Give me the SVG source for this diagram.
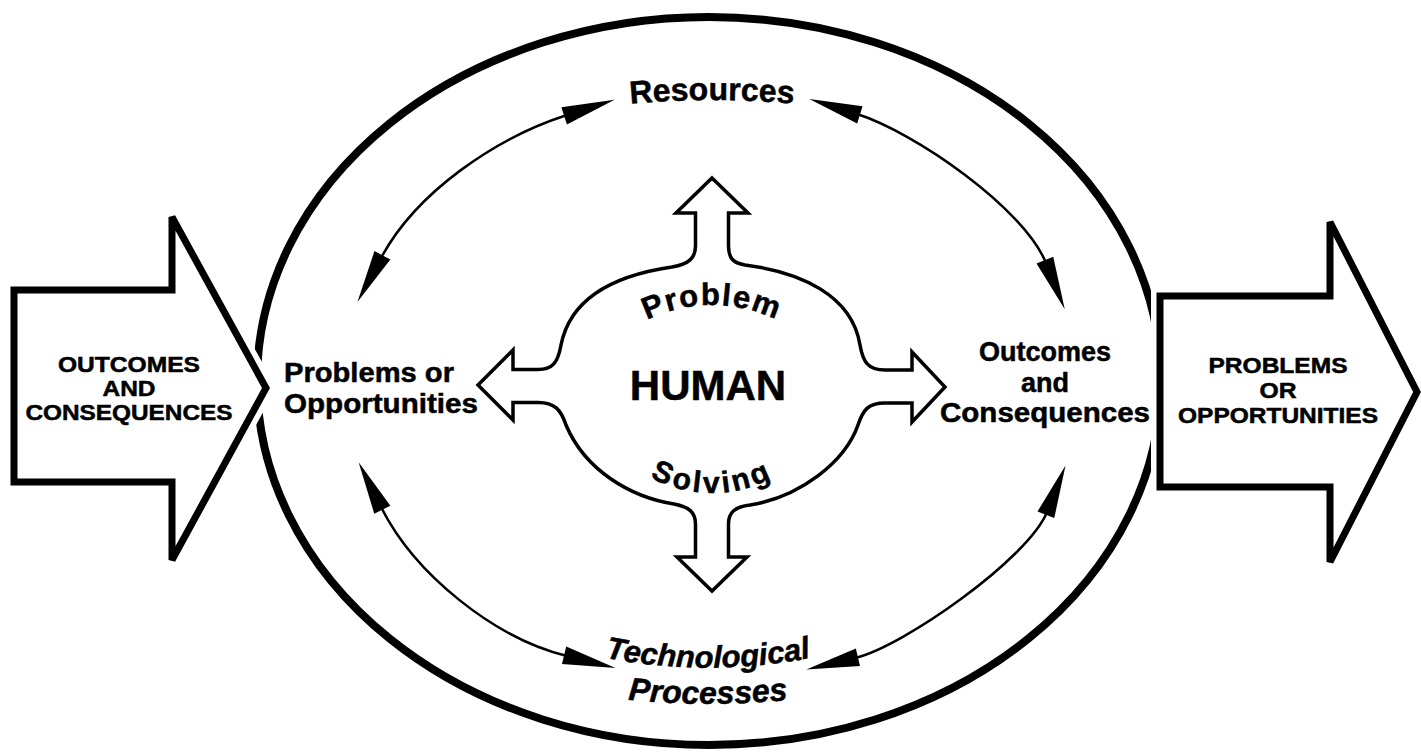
<svg xmlns="http://www.w3.org/2000/svg" xmlns:xlink="http://www.w3.org/1999/xlink" width="1421" height="753" viewBox="0 0 1421 753">
<style>
  .t { font-family: "Liberation Sans", Arial, Helvetica, sans-serif; font-weight: bold; fill: #000; stroke: #000; stroke-width: 0.5; }
  .ti { font-family: "Liberation Sans", Arial, Helvetica, sans-serif; font-weight: bold; font-style: italic; fill: #000; stroke: #000; stroke-width: 0.5; }
  .big { fill: #fff; stroke: #000; stroke-width: 7; stroke-linejoin: miter; }
  .halo { fill: #fff; stroke: #fff; stroke-width: 18; stroke-linejoin: miter; }
  .conn { fill: none; stroke: #000; stroke-width: 2.5; marker-start: url(#ah); marker-end: url(#ah); }
</style>
<defs>
  <marker id="ah" viewBox="-4 -10 56 20" markerWidth="56" markerHeight="20" refX="0" refY="0" orient="auto-start-reverse" markerUnits="userSpaceOnUse">
    <path d="M-3,-9 L50,0 L-3,9 Z" fill="#000"/>
  </marker>
  <path id="arcProblem" d="M598.6,357.9 A148,148 0 0 1 825.4,357.9"/>
  <path id="arcSolving" d="M599.4,428 A130,130 0 0 0 824.6,428"/>
  <path id="arcTech" d="M592,655 A535,535 0 0 0 824,655"/>
  <path id="arcProc" d="M560,690 A800,800 0 0 0 856,690"/>
  <path id="arcRes" d="M560,113 A900,900 0 0 1 864,113"/>
</defs>
<rect x="0" y="0" width="1421" height="753" fill="#fff"/>

<g id="outer-ellipse">
  <ellipse cx="709" cy="381" rx="452" ry="364" fill="none" stroke="#000" stroke-width="8"/>
</g>

<g id="input-arrow">
  <path class="halo" d="M14,290 L172,290 L172,217 L266,388 L172,560 L172,482 L14,482 Z"/>
  <path class="big" d="M14,290 L172,290 L172,217 L266,388 L172,560 L172,482 L14,482 Z"/>
  <text class="t" font-size="21.5" text-anchor="middle"><tspan x="129" y="372" textLength="142" lengthAdjust="spacingAndGlyphs">OUTCOMES</tspan><tspan x="129" y="396" textLength="53" lengthAdjust="spacingAndGlyphs">AND</tspan><tspan x="129" y="420" textLength="207" lengthAdjust="spacingAndGlyphs">CONSEQUENCES</tspan></text>
</g>

<g id="output-arrow">
  <path class="halo" d="M1160,296 L1330,296 L1330,222 L1417,392 L1330,562 L1330,487 L1160,487 Z"/>
  <path class="big" d="M1160,296 L1330,296 L1330,222 L1417,392 L1330,562 L1330,487 L1160,487 Z"/>
  <text class="t" font-size="21.5" text-anchor="middle"><tspan x="1278" y="373" textLength="139" lengthAdjust="spacingAndGlyphs">PROBLEMS</tspan><tspan x="1278" y="398" textLength="37" lengthAdjust="spacingAndGlyphs">OR</tspan><tspan x="1278" y="423" textLength="200" lengthAdjust="spacingAndGlyphs">OPPORTUNITIES</tspan></text>
</g>

<g id="human-problem-solving">
  <path fill="#fff" stroke="#000" stroke-width="3.5" stroke-linejoin="miter" d="M712,178 L748,213 L728.5,213 L728.5,246 C728.5,258 733,263 745,265 C800,272 852,295 860,345 C863,362 868,370 885,370 L912,370 L912,352 L945,387 L912,422 L912,403 L885,403 C868,403 863,410 858,425 C845,462 800,497 750,505 C735,507 728.5,512 728.5,524 L728.5,557 L747,557 L712,591 L677,557 L695.5,557 L695.5,524 C695.5,512 689,507 674,504 C630,497 585,470 566,425 C561,410 555,402.5 538,402.5 L513,402.5 L513,420 L478,385 L513,350 L513,369.5 L538,369.5 C553,369.5 558,362 561,345 C570,300 610,276 672,267 C689,264 695.5,258 695.5,246 L695.5,213 L676,213 Z"/>
  <text class="t" font-size="31" letter-spacing="1.5"><textPath xlink:href="#arcProblem" href="#arcProblem" startOffset="50%" text-anchor="middle">Problem</textPath></text>
  <text class="t" font-size="42" x="708" y="400" text-anchor="middle">HUMAN</text>
  <text class="t" font-size="30" letter-spacing="3"><textPath xlink:href="#arcSolving" href="#arcSolving" startOffset="50%" text-anchor="middle">Solving</textPath></text>
</g>

<g id="resources">
  <text class="t" font-size="32"><textPath xlink:href="#arcRes" href="#arcRes" startOffset="50%" text-anchor="middle">Resources</textPath></text>
</g>

<g id="problems-opportunities">
  <text class="t" font-size="27"><tspan x="284" y="382" textLength="170" lengthAdjust="spacingAndGlyphs">Problems or</tspan><tspan x="284" y="412.5" textLength="194" lengthAdjust="spacingAndGlyphs">Opportunities</tspan></text>
</g>

<g id="outcomes-consequences">
  <text class="t" font-size="27" text-anchor="middle"><tspan x="1045" y="361" textLength="132" lengthAdjust="spacingAndGlyphs">Outcomes</tspan><tspan x="1045" y="391.5">and</tspan><tspan x="1045" y="422" textLength="210" lengthAdjust="spacingAndGlyphs">Consequences</tspan></text>
</g>

<g id="technological-processes">
  <text class="ti" font-size="31"><textPath xlink:href="#arcTech" href="#arcTech" startOffset="50%" text-anchor="middle">Technological</textPath></text>
  <text class="ti" font-size="32"><textPath xlink:href="#arcProc" href="#arcProc" startOffset="50%" text-anchor="middle">Processes</textPath></text>
</g>

<g id="connectors">
  <path class="conn" d="M567,115 C495.6,138 416.3,192 381,258"/>
  <path class="conn" d="M857,114 C914,132 1023.5,207.4 1046,263"/>
  <path class="conn" d="M381,507 C414.5,574 494,638 567,656"/>
  <path class="conn" d="M1047,512 C1028.5,558.4 903.6,646.4 855,658"/>
</g>
</svg>
